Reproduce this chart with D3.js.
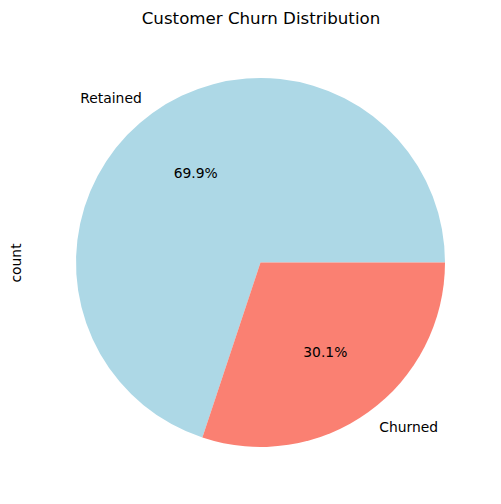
<!DOCTYPE html>
<html lang="en">
<head>
  <meta charset="UTF-8">
  <title>Customer Churn Distribution</title>
  <script src="https://d3js.org/d3.v7.min.js"></script>
  <style>
    html, body { margin: 0; padding: 0; background: #fff; }
    svg { display: block; }
    text { font-family: "DejaVu Sans", sans-serif; font-size: 13.89px; fill: #000; }
  </style>
</head>
<body>
<script>
  // values
  var categories = ["Retained", "Churned"];
  var shares = [69.9, 30.1];
  var colors = ["lightblue", "salmon"];

  var width = 501, height = 504,
    cx = 260.5, cy = 262.5, radius = 184.5;

  var svg = d3.select("body").append("svg")
    .attr("width", width)
    .attr("height", height);

  // matplotlib starts at 3 o'clock and goes counter-clockwise
  var pie = d3.pie()
    .sort(null)
    .startAngle(Math.PI / 2)
    .endAngle(Math.PI / 2 - 2 * Math.PI);

  var arcs = pie(shares);

  var arc = d3.arc().innerRadius(0).outerRadius(radius);

  var g = svg.append("g").attr("transform", "translate(" + cx + "," + cy + ")");

  g.selectAll("path")
    .data(arcs)
    .enter().append("path")
    .attr("d", arc)
    .attr("fill", function (d, i) { return colors[i]; });

  function pos(d, r) {
    var a = (d.startAngle + d.endAngle) / 2;
    return [r * Math.sin(a), -r * Math.cos(a)];
  }

  // percent labels at 0.6 radius
  g.selectAll(".pct")
    .data(arcs)
    .enter().append("text")
    .attr("class", "pct")
    .attr("text-anchor", "middle")
    .attr("dy", "0.36em")
    .attr("x", function (d) { return pos(d, radius * 0.6)[0]; })
    .attr("y", function (d) { return pos(d, radius * 0.6)[1]; })
    .text(function (d) { return d.data.toFixed(1) + "%"; });

  // category labels at 1.1 radius
  g.selectAll(".cat")
    .data(arcs)
    .enter().append("text")
    .attr("class", "cat")
    .attr("text-anchor", function (d) { return pos(d, 1)[0] < 0 ? "end" : "start"; })
    .attr("dy", "0.36em")
    .attr("x", function (d) { return pos(d, radius * 1.1)[0]; })
    .attr("y", function (d) { return pos(d, radius * 1.1)[1]; })
    .text(function (d, i) { return categories[i]; });

  svg.append("text")
    .attr("x", 261)
    .attr("y", 24)
    .attr("text-anchor", "middle")
    .style("font-size", "16.67px")
    .text("Customer Churn Distribution");

  svg.append("text")
    .attr("transform", "translate(21,263) rotate(-90)")
    .attr("text-anchor", "middle")
    .text("count");
</script>
</body>
</html>
